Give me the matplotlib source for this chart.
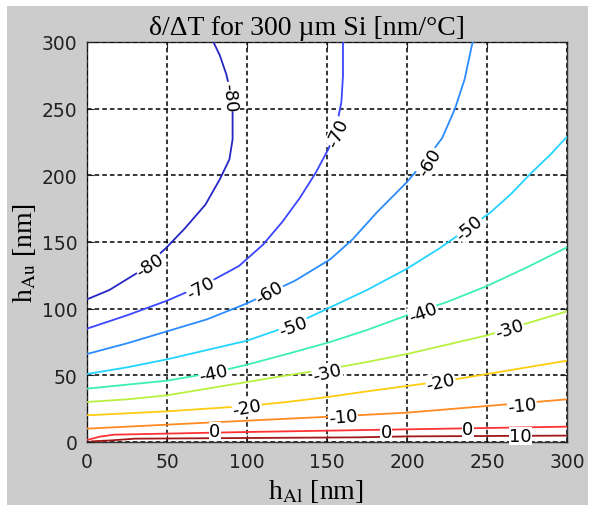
import matplotlib
matplotlib.use("Agg")
import matplotlib.pyplot as plt
from matplotlib.patches import Rectangle

# contour levels and line colours (jet-like)
levels = [-80, -70, -60, -50, -40, -30, -20, -10, 0, 10]
level_colors = ['#2626c4', '#3a46ff', '#2a8cff', '#22d4ff', '#3cf0b4',
                '#b8f040', '#ffcc10', '#ff8a20', '#ff3333', '#a01818']

# points (h_Al, h_Au) in nm
c_m80_x = [0, 14, 33, 49, 61, 74, 83, 89, 91, 91, 90, 87, 83, 79]
c_m80_y = [107, 114, 128, 145, 160, 178, 197, 212, 227, 250, 261, 276, 290, 300]
c_m70_x = [0, 25, 50, 75, 95, 110, 122, 133, 143, 151, 156, 159, 160, 160]
c_m70_y = [85, 95, 106, 119, 132, 148, 165, 183, 202, 220, 237, 255, 275, 300]
c_m60_x = [0, 25, 50, 75, 100, 130, 152, 166, 181, 200, 212, 222, 230, 236, 241]
c_m60_y = [66, 74, 83, 92, 104, 121, 137, 152, 172, 195, 212, 228, 250, 272, 300]
c_m50_x = [0, 25, 50, 75, 100, 129, 152, 175, 200, 220, 239, 252, 265, 277, 290, 300]
c_m50_y = [51, 56, 62, 69, 76, 88, 101, 114, 130, 145, 161, 172, 186, 201, 216, 229]
c_m40_x = [0, 25, 50, 79, 100, 125, 152, 175, 200, 225, 250, 275, 300]
c_m40_y = [40, 43, 46, 52, 58, 66, 75, 84, 95, 105, 117, 131, 146]
c_m30_x = [0, 25, 50, 75, 100, 125, 152, 175, 200, 225, 250, 275, 300]
c_m30_y = [30, 32, 35, 40, 45, 50, 55, 60, 66, 73, 80, 89, 98]
c_m20_x = [0, 25, 50, 75, 100, 125, 152, 175, 200, 225, 250, 275, 300]
c_m20_y = [20, 21.5, 23, 25, 27, 30, 34, 38, 42, 46, 51, 56, 61]
c_m10_x = [0, 25, 50, 75, 100, 152, 200, 250, 275, 300]
c_m10_y = [10, 11.5, 13, 14.5, 16, 19, 22, 27, 29.5, 32]
c_0_x = [0, 8, 17, 100, 150, 200, 250, 300]
c_0_y = [1.5, 4, 5.5, 7.5, 8.5, 9.5, 10.5, 11.5]
c_10_x = [3, 15, 30, 100, 170, 200, 300]
c_10_y = [0.5, 1.2, 2.5, 3, 3.5, 4.2, 4.8]

contour_x = [c_m80_x, c_m70_x, c_m60_x, c_m50_x, c_m40_x, c_m30_x, c_m20_x, c_m10_x, c_0_x, c_10_x]
contour_y = [c_m80_y, c_m70_y, c_m60_y, c_m50_y, c_m40_y, c_m30_y, c_m20_y, c_m10_y, c_0_y, c_10_y]

# inline labels
label_text = ['-80', '-80', '-70', '-70', '-60', '-60', '-50', '-50', '-40', '-40',
              '-30', '-30', '-20', '-20', '-10', '-10', '0', '0', '0', '10']
label_x = [89, 39, 71, 157, 114, 214, 129, 239, 79, 210,
           150, 264, 100, 221, 160, 272, 80, 187, 238, 271]
label_y = [259, 133, 116, 232, 112, 210, 87, 161, 52, 97,
           52, 85, 26, 45, 19, 27, 8, 7.5, 10, 4.5]
label_rot = [-85, 32, 28, 65, 30, 58, 20, 40, 12, 20,
             14, 18, 10, 12, 5, 6, 0, 0, 0, 0]

ticks = [0, 50, 100, 150, 200, 250, 300]

fig = plt.figure(figsize=(5.98, 5.06), dpi=100)
fig.patch.set_facecolor('white')
fig.add_artist(Rectangle((7 / 598, 0), 581 / 598, 499 / 506, transform=fig.transFigure,
                         facecolor='#cccccc', edgecolor='none', zorder=-10))

ax = fig.add_axes([87 / 598, (506 - 443) / 506, 480 / 598, 400 / 506])
ax.set_facecolor('white')

for xs, ys, c in zip(contour_x, contour_y, level_colors):
    ax.plot(xs, ys, color=c, linewidth=1.3, zorder=3, solid_joinstyle='round')

for t, x, y, r in zip(label_text, label_x, label_y, label_rot):
    ax.text(x, y, t, rotation=r, ha='center', va='center', rotation_mode='anchor',
            fontsize=13, family='DejaVu Sans', color='black', zorder=5,
            bbox=dict(facecolor='white', edgecolor='none', pad=0.3))

ax.set_xlim(0, 300)
ax.set_ylim(0, 300)
ax.set_xticks(ticks)
ax.set_yticks(ticks)
ax.grid(True, color='black', linestyle=(0, (3, 2)), linewidth=1.1, zorder=2)
ax.set_axisbelow(False)
ax.tick_params(direction='in', length=5, top=True, right=True, labelsize=13.5, pad=7,
               colors='#222222')
for s in ax.spines.values():
    s.set_color('#333333')
    s.set_linewidth(1.0)

plt.rcParams['mathtext.fontset'] = 'stix'
serif = 'Liberation Serif'
fig.text(307 / 598, 1 - 35 / 506, 'δ/ΔT for 300 µm Si [nm/°C]', ha='center', va='baseline',
         fontsize=20, family=serif)
fig.text(316 / 598, 1 - 499 / 506, r'h$_{\mathrm{Al}}$ [nm]', ha='center', va='baseline',
         fontsize=20, family=serif)
fig.text(24 / 598, 1 - 253 / 506, r'h$_{\mathrm{Au}}$ [nm]', ha='center', va='center',
         rotation=90, fontsize=20, family=serif)

fig.savefig('out.png', dpi=100, facecolor=fig.get_facecolor())
